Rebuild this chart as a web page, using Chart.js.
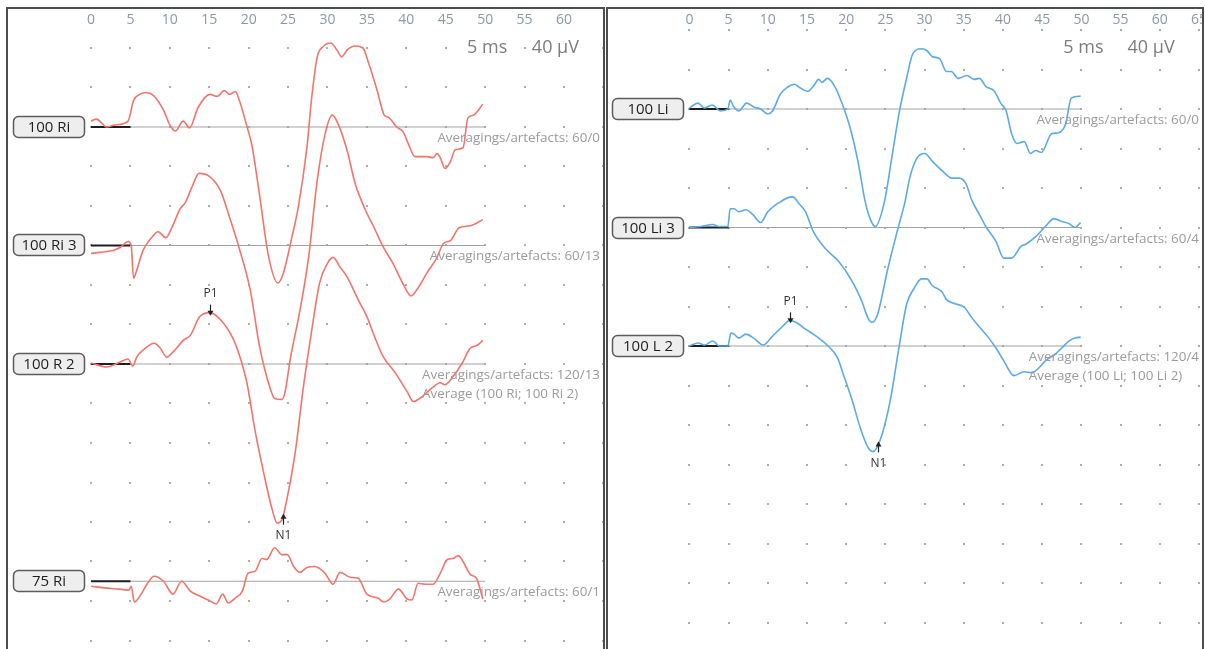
<!DOCTYPE html>
<html>
<head>
<meta charset="utf-8">
<script src="https://cdn.jsdelivr.net/npm/chart.js@4.4.0/dist/chart.umd.min.js"></script>
<style>
  body { margin: 0; background: #fff; width: 1205px; height: 649px; overflow: hidden; position: relative; }
  .panel { position: absolute; top: 7px; height: 650px; border: 2px solid #4d4d4d; border-bottom: none; }
  #leftPanel { left: 6px; width: 595px; }
  #rightPanel { left: 606px; width: 594px; }
  canvas { display: block; }
</style>
</head>
<body>
<div class="panel" id="leftPanel"><canvas id="leftChart"></canvas></div>
<div class="panel" id="rightPanel"><canvas id="rightChart"></canvas></div>
<script>
// Latencies in ms, amplitudes in µV relative to each trace's own baseline

// 100 Ri
const riTime = [0, 0.7, 2, 3, 4.7, 5.4, 6.2, 7, 7.9, 9.2, 10, 10.7, 11.7, 12.5, 13.6, 15.1, 16, 16.9, 17.6, 18.3, 18.9, 19.8, 20.4, 21.4, 22.5, 23.7, 24.4, 25.5, 26.3, 27.4, 28, 28.7, 29.4, 30.4, 31.2, 31.8, 32.5, 33.5, 34.5, 35.2, 36.3, 37.2, 37.7, 38.8, 39.6, 40.2, 41.1, 42.6, 43.4, 43.9, 44.3, 44.9, 45.6, 46.2, 47.2, 47.8, 48.5, 49.7];
const riAmp = [6, 8, 0, 2, 6, 27, 33, 35, 32, 17, 2, -4, 6, -1, 20, 33, 31, 37, 33, 36, 25, 0, -18, -70, -130, -158, -148, -111, -81, -20, 30, 71, 81, 85, 78, 71, 78, 82, 80, 65, 37, 12, 10, 0, -5, -16, -30, -30, -31, -27, -31, -42, -35, -23, -21, 9, 12, 23];

// 100 Ri 3
const ri3Time = [0, 1.1, 2.8, 3.7, 4.7, 5.1, 5.4, 5.8, 6.6, 7.7, 8.5, 9.5, 10.2, 11.3, 12, 13, 13.7, 15, 16.4, 17.6, 18.7, 20.2, 21.4, 22.7, 23.3, 24.2, 24.6, 25.3, 26.5, 27.6, 28.7, 29.7, 30.6, 31.3, 32.5, 33.5, 34.8, 35.8, 37.1, 38.3, 39.6, 40.6, 41.4, 42.6, 43.9, 44.7, 45.6, 46.7, 48.1, 49.7];
const ri3Amp = [-8, -7, -5, -2, 4, 0, -33, -25, -5, 8, 14, 8, 17, 37, 44, 63, 73, 70, 56, 28, 0, -45, -103, -144, -155, -156, -149, -114, -66, -12, 66, 113, 132, 124, 96, 63, 36, 20, -2, -18, -39, -51, -44, -28, -12, 2, 5, 18, 20, 26];

// 100 R 2 (average of the two above)
const r2Time = [0, 2, 3.7, 4.7, 5.3, 5.8, 6.9, 8, 8.8, 9.6, 10.4, 11.7, 12.6, 13.8, 15.1, 16.4, 18, 18.9, 19.8, 20.8, 21.9, 23, 23.6, 24.2, 24.9, 25.9, 26.9, 28, 29, 30, 30.7, 31.6, 32.5, 33.9, 35, 36, 37.1, 38.6, 40.1, 40.9, 42, 43.3, 44.3, 44.9, 45.9, 47.1, 48.1, 49, 49.7];
const r2Amp = [1, -3, 2, 5, -2, 7, 16, 21, 16, 7, 12, 24, 29, 48, 52, 45, 26, 7, -20, -67, -110, -148, -161, -158, -135, -90, -26, 34, 82, 102, 108, 98, 88, 65, 48, 27, 7, -9, -28, -38, -33, -24, -19, -21, -13, 1, 16, 19, 24];

// 75 Ri
const ri75Time = [0, 2, 3.7, 4.8, 5.1, 5.5, 6.2, 7.1, 8, 9.2, 10.4, 11.5, 12.6, 13.8, 15.1, 15.9, 16.7, 17.4, 18.3, 19.2, 19.9, 20.8, 21.7, 22.3, 23.3, 24.2, 24.9, 25.7, 26.5, 27.4, 28.4, 29.7, 30.7, 31.6, 32.9, 33.9, 35, 36.4, 37.1, 37.9, 39, 40.1, 40.7, 41.5, 42.4, 43.4, 44.3, 45.2, 45.9, 46.6, 47.2, 48.1, 48.9, 49.7];
const ri75Amp = [-5, -7, -8, -9, -5, -21, -15, -3, 5, 0, -13, 0, -10, -15, -20, -23, -13, -22, -17, -10, 8, 10, 23, 22, 34, 27, 27, 15, 9, 14, 15, 8, -3, 9, 4, 3, -13, -17, -21, -18, -8, -18, -19, -2, -3, -3, 8, 22, 23, 26, 20, 7, 3, -18];

// 100 Li
const liTime = [0, 1.1, 1.9, 2.9, 4, 4.9, 5.2, 5.6, 6.3, 7.3, 8.2, 9.1, 10, 10.6, 11.6, 12.5, 13.4, 14, 15.1, 15.8, 16.5, 16.9, 17.6, 18.6, 19.5, 20.5, 21.5, 22.4, 23.1, 23.7, 24.9, 25.8, 26.8, 27.7, 28.5, 29.6, 30.3, 31, 31.9, 32.8, 33.4, 34.3, 35.4, 36.3, 37, 37.8, 38.9, 39.7, 40.4, 41.1, 41.8, 42.7, 43.5, 44.2, 44.9, 46.2, 47.1, 48, 48.7, 49.9];
const liAmp = [1, 6, 1, 4, -2, 0, 9, 3, -2, 6, 2, 0, -5, -2, 15, 22, 25, 22, 18, 23, 30, 27, 31, 22, 5, -19, -53, -93, -112, -119, -93, -50, -2, 31, 56, 61, 59, 53, 51, 38, 38, 31, 34, 30, 31, 23, 18, 6, -2, -25, -35, -33, -45, -42, -44, -25, -24, -15, 11, 13];

// 100 Li 3
const li3Time = [0, 1.5, 3, 3.7, 4.9, 5.2, 5.7, 6.3, 7.2, 8.1, 9.1, 10, 11, 11.6, 12.5, 13.2, 14, 14.8, 15.8, 17.3, 19, 20.8, 22, 22.8, 23.3, 24, 25.3, 26.6, 27.5, 28.1, 29, 30, 31, 32.3, 33.5, 34.4, 35.3, 36, 37, 37.8, 39.1, 40.1, 41.1, 42.3, 42.9, 44.2, 45.4, 46.5, 47.5, 48.4, 49.2, 49.9];
const li3Amp = [0, 1, 3, 1, 1, 19, 19, 16, 18, 13, 5, 16, 23, 26, 30, 31, 24, 16, -4, -21, -34, -55, -75, -92, -96, -88, -42, -1, 26, 50, 70, 75, 67, 57, 50, 50, 44, 28, 13, 1, -14, -31, -31, -19, -17, -9, 1, 9, 6, 4, 0, 5];

// 100 L 2 (average of the two above)
const l2Time = [0, 1.1, 1.9, 3, 3.8, 4.9, 5.3, 5.7, 6.3, 7.2, 8.2, 9.4, 10.6, 11.9, 12.8, 13.8, 14.8, 15.8, 17, 17.7, 18.9, 19.6, 20.8, 21.8, 22.8, 23.4, 24.3, 25.6, 26.8, 27.7, 28.7, 29.6, 30.3, 31, 32.2, 32.8, 33.8, 35.1, 35.9, 36.7, 38, 39.1, 40.1, 41.4, 42.7, 43.7, 44.6, 45.4, 46.7, 47.5, 48.4, 49.2, 49.9];
const l2Amp = [0, 3, 1, 5, 0, 0, 13, 12, 8, 12, 8, 1, 10, 20, 26, 23, 17, 12, 5, 0, -12, -28, -56, -83, -103, -107, -96, -56, 2, 42, 59, 68, 68, 61, 55, 47, 43, 39, 30, 22, 10, -2, -15, -30, -26, -27, -22, -15, -8, -2, 5, 8, 9];

// panel contents
const leftNames = ['100 Ri', '100 Ri 3', '100 R 2', '75 Ri'];
const leftOffsets = [-80, -200, -320, -540];
const leftNotes = [
  ['Averagings/artefacts: 60/0'],
  ['Averagings/artefacts: 60/13'],
  ['Averagings/artefacts: 120/13', 'Average (100 Ri; 100 Ri 2)'],
  ['Averagings/artefacts: 60/1']
];
const leftPeaks = [
  { name: 'P1', trace: 2, t: 15.1, dir: 'down' },
  { name: 'N1', trace: 2, t: 24.3, dir: 'up' }
];

const rightNames = ['100 Li', '100 Li 3', '100 L 2'];
const rightOffsets = [-80, -200, -320];
const rightNotes = [
  ['Averagings/artefacts: 60/0'],
  ['Averagings/artefacts: 60/4'],
  ['Averagings/artefacts: 120/4', 'Average (100 Li; 100 Li 2)']
];
const rightPeaks = [
  { name: 'P1', trace: 2, t: 12.8, dir: 'down' },
  { name: 'N1', trace: 2, t: 24.0, dir: 'up' }
];

const sweepEnd = 50;     // ms, end of recorded sweep
const preStim = 5;       // ms, prestimulus segment
const timeStep = 5;      // ms per division
const ampStep = 40;      // µV per division
const lastTick = 65;     // last grid column

const FONT = '"Open Sans", "Noto Sans", sans-serif';
const TICK_COLOR = '#8a98a8';

// value at time t by linear interpolation
function ampAt(times, amps, t) {
  for (let i = 1; i < times.length; i++) {
    if (t <= times[i]) {
      const f = (t - times[i - 1]) / (times[i] - times[i - 1]);
      return amps[i - 1] + f * (amps[i] - amps[i - 1]);
    }
  }
  return amps[amps.length - 1];
}

const decor = {
  id: 'decor',
  beforeDatasetsDraw(chart, args, o) {
    const { ctx, scales: { x, y } } = chart;
    ctx.save();
    ctx.fillStyle = '#adadad';
    for (let t = 0; t <= lastTick; t += timeStep) {
      for (let v = 0; v >= y.min; v -= ampStep) {
        const px = Math.round(x.getPixelForValue(t));
        const py = Math.round(y.getPixelForValue(v));
        ctx.fillRect(px - 1, py - 1, 2, 2);
      }
    }
    ctx.restore();
  },
  afterDatasetsDraw(chart, args, o) {
    const { ctx, scales: { x, y } } = chart;
    ctx.save();

    // the edge tick label, left to run off the panel
    if (x.max >= lastTick) {
      ctx.font = '14px ' + FONT;
      ctx.fillStyle = TICK_COLOR;
      ctx.textAlign = 'center';
      ctx.textBaseline = 'middle';
      ctx.fillText(String(lastTick), x.getPixelForValue(lastTick), x.bottom - 3 - 8.4);
    }

    // sensitivity note
    ctx.font = '18px ' + FONT;
    ctx.textBaseline = 'middle';
    const sy = y.getPixelForValue(o.noteLevel);
    const msX = x.getPixelForValue(47.7);
    const uvX = x.getPixelForValue(61.9);
    const w1 = ctx.measureText('5 ms').width, w2 = ctx.measureText('40 µV').width;
    ctx.fillStyle = '#fff';
    ctx.fillRect(msX - 1, sy - 10, w1 + 2, 20);
    ctx.fillRect(uvX - w2 - 1, sy - 10, w2 + 2, 20);
    ctx.fillStyle = '#7d7d7d';
    ctx.textAlign = 'left';
    ctx.fillText('5 ms', msX, sy);
    ctx.textAlign = 'right';
    ctx.fillText('40 µV', uvX, sy);

    // trace name boxes and averaging notes
    o.names.forEach((name, i) => {
      const by = Math.round(y.getPixelForValue(o.offsets[i]));
      ctx.beginPath();
      ctx.roundRect(o.boxX + 0.5, by - 10.5, 71, 21, 5);
      ctx.fillStyle = '#eeeeee';
      ctx.fill();
      ctx.lineWidth = 1.5;
      ctx.strokeStyle = '#5c5c5c';
      ctx.stroke();
      ctx.fillStyle = '#1e1e1e';
      ctx.font = '15px ' + FONT;
      ctx.textAlign = 'center';
      ctx.textBaseline = 'middle';
      ctx.fillText(name, o.boxX + 36, by + 1);

      const lines = o.notes[i];
      ctx.font = '13.4px ' + FONT;
      ctx.fillStyle = '#9b9b9b';
      const right = chart.width - 3;
      const left = right - ctx.measureText(lines[0]).width;
      ctx.textAlign = 'left';
      lines.forEach((line, k) => ctx.fillText(line, left, by + 11 + k * 19));
    });

    // peak markers
    ctx.strokeStyle = '#222';
    ctx.lineWidth = 1.2;
    o.peaks.forEach(p => {
      const tr = o.traces[p.trace];
      const px = Math.round(x.getPixelForValue(p.t)) + 0.5;
      const py = y.getPixelForValue(o.offsets[p.trace] + ampAt(tr.t, tr.a, p.t));
      const s = p.dir === 'down' ? 1 : -1;
      const tip = py + 2 * s, tail = py - 8 * s;
      ctx.beginPath();
      ctx.moveTo(px, tail);
      ctx.lineTo(px, tip);
      ctx.stroke();
      ctx.fillStyle = '#222';
      ctx.beginPath();
      ctx.moveTo(px, tip + s);
      ctx.lineTo(px - 3, tip - 4 * s);
      ctx.lineTo(px + 3, tip - 4 * s);
      ctx.closePath();
      ctx.fill();
      ctx.font = '12px ' + FONT;
      ctx.fillStyle = '#333';
      ctx.textAlign = 'center';
      ctx.textBaseline = 'middle';
      ctx.fillText(p.name, px, py - 19 * s);
    });
    ctx.restore();
  }
};

function makePanel(canvasId, width, zeroPx, pxPerMs, row0Px, traces, names, offsets, notes, peaks, color) {
  const canvas = document.getElementById(canvasId);
  canvas.width = width;
  canvas.height = 640;
  const pxPerUv = 39.5 / ampStep;
  const top = 22;                                  // height of the time axis strip
  const xMin = -zeroPx / pxPerMs;
  const xMax = xMin + width / pxPerMs;
  const yMax = (row0Px - top) / pxPerUv;
  const yMin = yMax - (640 - top) / pxPerUv;

  const datasets = [];
  traces.forEach((tr, i) => {
    datasets.push({
      data: tr.t.map((t, k) => ({ x: t, y: offsets[i] + tr.a[k] })),
      borderColor: color, borderWidth: 1.6, pointRadius: 0,
      cubicInterpolationMode: 'monotone'
    });
  });
  offsets.forEach(off => {
    datasets.push({
      data: [{ x: 0, y: off }, { x: preStim, y: off }],
      borderColor: '#1f1f1f', borderWidth: 2, pointRadius: 0
    });
  });
  offsets.forEach(off => {
    datasets.push({
      data: [{ x: 0, y: off }, { x: sweepEnd, y: off }],
      borderColor: '#a3a3a3', borderWidth: 1, pointRadius: 0
    });
  });

  return new Chart(canvas.getContext('2d'), {
    type: 'line',
    data: { datasets },
    plugins: [decor],
    options: {
      responsive: false,
      animation: false,
      events: [],
      layout: { padding: 0, autoPadding: false },
      scales: {
        x: {
          type: 'linear', position: 'top', min: xMin, max: xMax,
          grid: { display: false, drawTicks: false },
          border: { display: false },
          ticks: {
            stepSize: timeStep, includeBounds: false, autoSkip: false, maxRotation: 0,
            padding: 3, color: TICK_COLOR, font: { family: FONT, size: 14 },
            callback: v => (v >= 0 && v < lastTick ? v : '')
          },
          afterFit: s => { s.height = top; }
        },
        y: { type: 'linear', display: false, min: yMin, max: yMax }
      },
      plugins: {
        legend: { display: false },
        tooltip: { enabled: false },
        decor: {
          names, offsets, notes, peaks, traces,
          boxX: canvasId === 'leftChart' ? 5 : 4,
          noteLevel: yMax - (39 - top) / pxPerUv
        }
      }
    }
  });
}

makePanel('leftChart', 595, 83, 7.883, 39,
  [{ t: riTime, a: riAmp }, { t: ri3Time, a: ri3Amp }, { t: r2Time, a: r2Amp }, { t: ri75Time, a: ri75Amp }],
  leftNames, leftOffsets, leftNotes, leftPeaks, '#f2756b');

makePanel('rightChart', 594, 80, 7.9, 21,
  [{ t: liTime, a: liAmp }, { t: li3Time, a: li3Amp }, { t: l2Time, a: l2Amp }],
  rightNames, rightOffsets, rightNotes, rightPeaks, '#5caae6');
</script>
</body>
</html>
